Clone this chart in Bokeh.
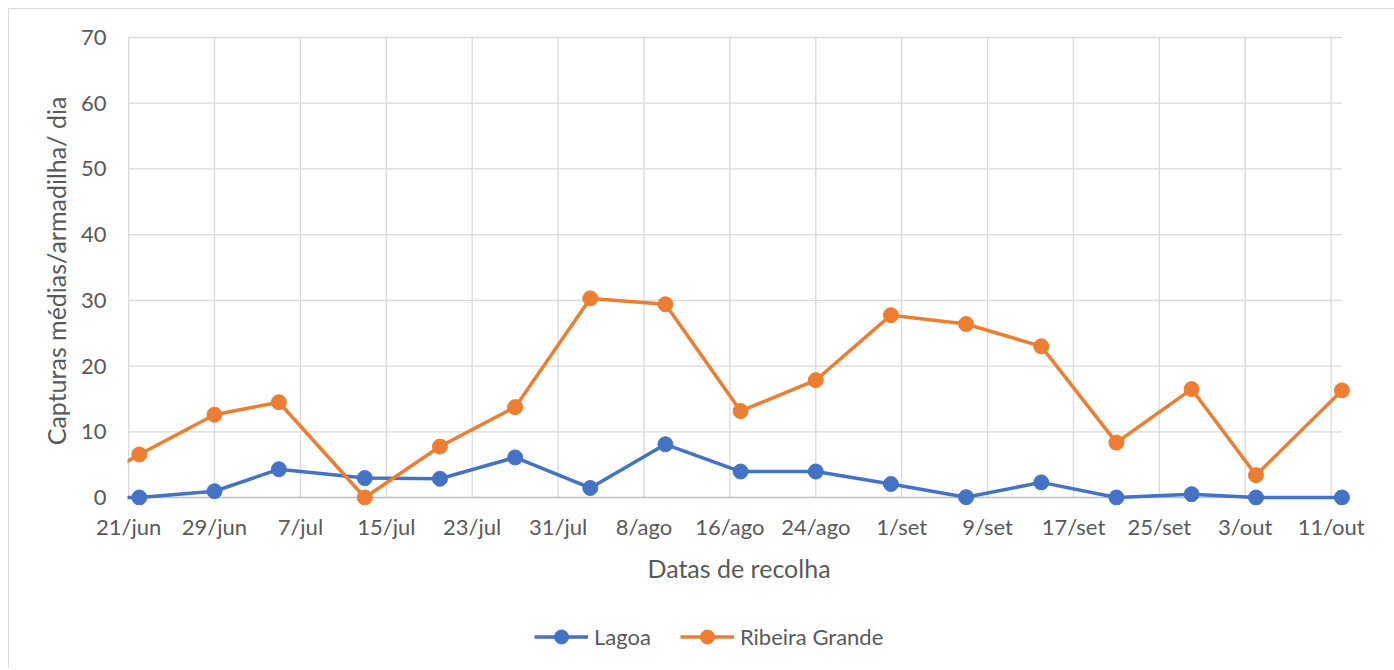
import pandas as pd
from bokeh.plotting import figure
from bokeh.layouts import column
from bokeh.models import FixedTicker, Legend, LegendItem, Range1d
from bokeh.embed import file_html
from bokeh.resources import INLINE

# ---- data ----
sample_dates = ["2019-06-15", "2019-06-22", "2019-06-29", "2019-07-05", "2019-07-13",
                "2019-07-20", "2019-07-27", "2019-08-03", "2019-08-10", "2019-08-17",
                "2019-08-24", "2019-08-31", "2019-09-07", "2019-09-14", "2019-09-21",
                "2019-09-28", "2019-10-04", "2019-10-12"]
lagoa = [0, 0, 0.95, 4.3, 2.95, 2.85, 6.1, 1.45, 8.1, 3.95, 3.95, 2.05, 0.05, 2.3, 0, 0.5, 0, 0]
ribeira_grande = [0, 6.55, 12.6, 14.5, 0, 7.75, 13.75, 30.3, 29.4, 13.15, 17.85, 27.75,
                  26.4, 23.0, 8.35, 16.5, 3.4, 16.3]
tick_dates = ["2019-06-21", "2019-06-29", "2019-07-07", "2019-07-15", "2019-07-23",
              "2019-07-31", "2019-08-08", "2019-08-16", "2019-08-24", "2019-09-01",
              "2019-09-09", "2019-09-17", "2019-09-25", "2019-10-03", "2019-10-11"]
tick_labels = ["21/jun", "29/jun", "7/jul", "15/jul", "23/jul", "31/jul", "8/ago", "16/ago",
               "24/ago", "1/set", "9/set", "17/set", "25/set", "3/out", "11/out"]
y_ticks = [0, 10, 20, 30, 40, 50, 60, 70]
series_names = ["Lagoa", "Ribeira Grande"]


def ms(s):
    return int(pd.Timestamp(s).value // 10**6)


DAY = 86400000
xs = [ms(d) for d in sample_dates]
tx = [ms(d) for d in tick_dates]
x_first = tx[0]
x_last = xs[-1]

FONT = "Lato"
GRID = "#d9d9d9"
TXT = "#595959"
BLUE = "#4472C4"
ORANGE = "#ED7D31"

p = figure(width=1385, height=591, output_backend="svg", toolbar_location=None,
           x_range=Range1d(x_first - 0.1 * DAY, x_last + 0.8 * DAY),
           y_range=Range1d(-8 / 6.571, y_ticks[-1] + 1 / 6.571),
           min_border_left=118, min_border_right=44, min_border_top=27, min_border_bottom=95)
p.outline_line_color = None
p.xgrid.visible = False
p.ygrid.visible = False

# gridlines (from tick arrays)
p.segment(x0=tx, y0=[y_ticks[0]] * len(tx), x1=tx, y1=[y_ticks[-1]] * len(tx),
          line_color=GRID, line_width=1.3)
p.segment(x0=[x_first] * (len(y_ticks) - 1), y0=y_ticks[1:], x1=[x_last] * (len(y_ticks) - 1),
          y1=y_ticks[1:], line_color=GRID, line_width=1.3)
p.segment(x0=[x_first], y0=[y_ticks[0]], x1=[x_last], y1=[y_ticks[0]],
          line_color="#bfbfbf", line_width=1.5)

# series
p.line(xs, lagoa, line_color=BLUE, line_width=3.5)
p.scatter(xs, lagoa, size=15, fill_color=BLUE, line_color=BLUE)
p.line(xs, ribeira_grande, line_color=ORANGE, line_width=3.5)
p.scatter(xs, ribeira_grande, size=15, fill_color=ORANGE, line_color=ORANGE)

# axes
xa = p.xaxis[0]
xa.ticker = FixedTicker(ticks=tx)
xa.major_label_overrides = {t: lab for t, lab in zip(tx, tick_labels)}
xa.axis_line_color = None
xa.major_tick_line_color = None
xa.minor_tick_line_color = None
xa.major_label_standoff = 1
xa.major_label_text_font = FONT
xa.major_label_text_font_size = "22px"
xa.major_label_text_color = TXT
xa.axis_label = "Datas de recolha"
xa.axis_label_text_font = FONT
xa.axis_label_text_font_size = "25px"
xa.axis_label_text_font_style = "normal"
xa.axis_label_text_color = TXT
xa.axis_label_standoff = 10

ya = p.yaxis[0]
ya.ticker = FixedTicker(ticks=y_ticks)
ya.axis_line_color = None
ya.major_tick_line_color = None
ya.minor_tick_line_color = None
ya.major_label_standoff = 15
ya.major_label_text_font = FONT
ya.major_label_text_font_size = "22px"
ya.major_label_text_color = TXT
ya.axis_label = "Capturas médias/armadilha/ dia"
ya.axis_label_text_font = FONT
ya.axis_label_text_font_size = "25px"
ya.axis_label_text_font_style = "normal"
ya.axis_label_text_color = TXT
ya.axis_label_standoff = 7

# legend strip (separate figure below the chart; its series lie outside its tiny range)
q = figure(width=1385, height=68, output_backend="svg", toolbar_location=None,
           x_range=Range1d(0, 1), y_range=Range1d(0, 1),
           x_axis_location=None, y_axis_location=None,
           min_border_left=0, min_border_right=0, min_border_top=0, min_border_bottom=0)
q.outline_line_color = None
q.grid.visible = False
ql1 = q.line(xs, lagoa, line_color=BLUE, line_width=3.5)
qm1 = q.scatter(xs, lagoa, size=15, fill_color=BLUE, line_color=BLUE)
ql2 = q.line(xs, ribeira_grande, line_color=ORANGE, line_width=3.5)
qm2 = q.scatter(xs, ribeira_grande, size=15, fill_color=ORANGE, line_color=ORANGE)
legend = Legend(items=[LegendItem(label=series_names[0], renderers=[ql1, qm1]),
                       LegendItem(label=series_names[1], renderers=[ql2, qm2])],
                orientation="horizontal", location=(407, 14),
                glyph_width=54, glyph_height=35, label_standoff=6, spacing=29,
                padding=2, margin=0, border_line_color=None, background_fill_alpha=0,
                label_text_font=FONT, label_text_font_size="22px", label_text_color=TXT)
q.add_layout(legend, "center")

layout = column(p, q, spacing=0)
layout.styles = {"margin-left": "8px", "margin-top": "8px",
                 "border-left": "1px solid #d9d9d9", "border-top": "1px solid #d9d9d9"}

open("out.html", "w").write(file_html(layout, INLINE))
